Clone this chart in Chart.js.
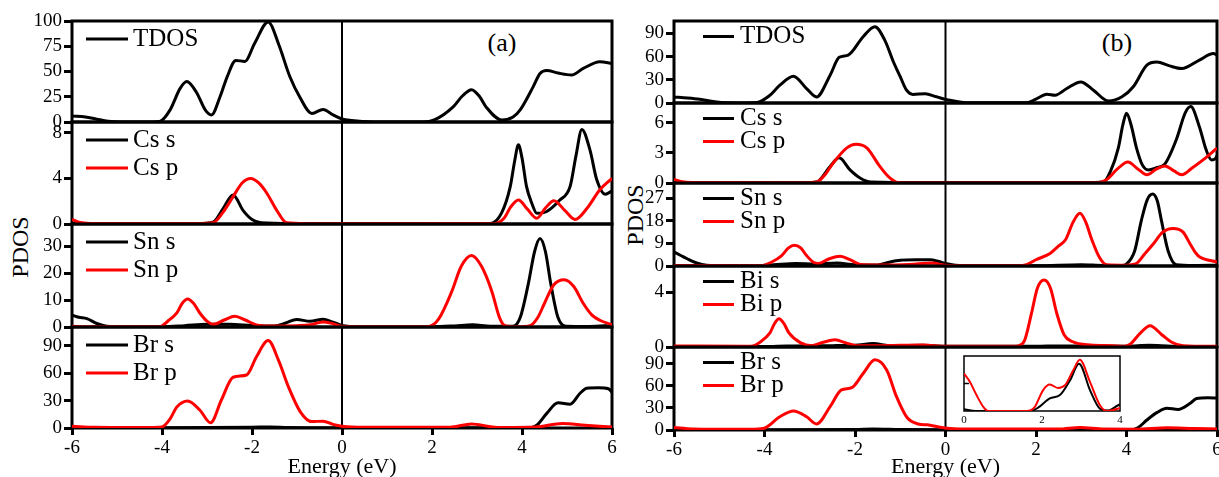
<!DOCTYPE html>
<html>
<head>
<meta charset="utf-8">
<script src="https://cdn.jsdelivr.net/npm/chart.js@4.4.1/dist/chart.umd.min.js"></script>
<style>
  html, body { margin: 0; padding: 0; background: #fff; }
  #fig { position: relative; width: 1219px; height: 477px; overflow: hidden;
         font-family: 'Liberation Serif', 'Times New Roman', serif; }
  #fig canvas { position: absolute; }
  .lbl { position: absolute; color: #000; white-space: nowrap; transform: translate(-50%, -50%); }
  .rot { transform: translate(-50%, -50%) rotate(-90deg); }
</style>
</head>
<body>
<div id="fig">
  <div class="lbl" style="left:502px;top:43px;font-size:26px">(a)</div>
  <div class="lbl" style="left:1117px;top:43px;font-size:26px">(b)</div>
  <div class="lbl rot" style="left:20px;top:247px;font-size:24px">PDOS</div>
  <div class="lbl rot" style="left:635px;top:215px;font-size:24px">PDOS</div>
</div>
<script>
// energy axis
const energyTicks = [-6, -4, -2, 0, 2, 4, 6];
const insetTicks = [0, 2, 4];

// ---- panel (a): [energy eV, states/eV]
const tdosA = [[-6,6],[-5.7,5],[-5.45,2.8],[-5.2,0.8],[-4.8,0],[-4.2,0],[-4.05,0.5],[-3.82,12],[-3.6,33],[-3.45,40],[-3.23,29],[-3.04,12],[-2.9,7],[-2.71,25],[-2.55,45],[-2.36,61],[-2.16,60],[-1.94,78],[-1.64,99],[-1.4,76],[-1.16,45],[-0.93,24],[-0.67,8.5],[-0.42,12.5],[-0.2,7],[0,3],[0.5,0.5],[1.0,0],[1.8,0],[2.05,2],[2.47,15],[2.68,26],[2.88,32],[3.06,25],[3.2,15],[3.55,2],[3.8,5],[3.96,12],[4.25,35],[4.4,48],[4.55,51],[4.8,48.5],[5.1,46.5],[5.36,53],[5.73,59.7],[6,58]];
const csSA = [[-6,0.05],[-3.2,0.03],[-2.87,0.15],[-2.65,1.3],[-2.42,2.55],[-2.2,1.2],[-2.0,0.4],[-1.8,0.12],[-1.0,0.05],[0,0.02],[3.3,0.05],[3.55,1.0],[3.74,3.3],[3.84,5.6],[3.92,6.95],[4.0,5.8],[4.1,3.3],[4.22,1.8],[4.33,0.95],[4.55,1.1],[4.84,2.1],[5.07,3.3],[5.2,6.0],[5.33,8.3],[5.51,6.5],[5.66,3.9],[5.85,2.6],[6,2.9]];
const csPA = [[-6,0.4],[-5.85,0.15],[-5.6,0.05],[-3.2,0.04],[-2.87,0.1],[-2.65,1.0],[-2.42,2.4],[-2.22,3.6],[-2.03,4.0],[-1.85,3.6],[-1.67,2.7],[-1.45,1.2],[-1.23,0.1],[-0.8,0.03],[3.4,0.05],[3.6,0.5],[3.75,1.5],[3.92,2.1],[4.12,1.3],[4.33,0.5],[4.52,1.4],[4.71,2.05],[4.95,1.2],[5.18,0.4],[5.45,1.4],[5.73,3.0],[6,4.0]];
const snSA = [[-6,4.4],[-5.85,3.6],[-5.67,3.1],[-5.45,1.3],[-5.23,0.3],[-4.8,0.05],[-4.0,0.1],[-3.5,0.5],[-3.0,1.0],[-2.5,1.0],[-2.0,0.6],[-1.5,0.4],[-1.25,1.5],[-1.01,2.8],[-0.71,2.1],[-0.42,2.9],[-0.2,1.8],[0,0.6],[0.4,0.1],[2.0,0.1],[2.5,0.4],[2.9,0.8],[3.3,0.3],[3.8,0.3],[3.96,3.5],[4.14,16],[4.28,28],[4.4,32.8],[4.52,28],[4.64,16],[4.8,3.5],[4.98,0.3],[5.5,0.2],[6,0.6]];
const snPA = [[-6,0.3],[-5.7,0.1],[-4.3,0.05],[-4.05,0.1],[-3.85,2.5],[-3.67,5.2],[-3.55,8.8],[-3.43,10.4],[-3.3,8.8],[-3.16,5.2],[-3.0,2.2],[-2.86,1.0],[-2.62,2.6],[-2.38,4.0],[-2.15,2.6],[-1.9,0.8],[-1.6,0.4],[-1.0,0.5],[-0.7,0.8],[-0.42,1.9],[-0.2,1.2],[0,0.3],[0.5,0.05],[1.8,0.05],[1.96,0.3],[2.15,3],[2.44,13.2],[2.65,22.5],[2.88,26.5],[3.1,22.5],[3.33,13.2],[3.5,3.5],[3.62,0.5],[3.9,0.1],[4.18,0.5],[4.35,3.5],[4.5,8.8],[4.7,15.5],[4.94,17.5],[5.15,15],[5.36,8.8],[5.55,4.5],[5.73,2.5],[6,0.8]];
const brSA = [[-6,0.4],[-4,0.3],[-2,0.8],[-1.6,1.2],[-1.2,0.6],[0,0.3],[3,0.3],[4.2,0.4],[4.35,4],[4.55,16],[4.8,27.7],[5.07,26],[5.29,38],[5.44,43.5],[5.7,44],[5.92,43],[6,39]];
const brPA = [[-6,1.8],[-5.5,0.8],[-4.3,0.5],[-4.01,1],[-3.82,10],[-3.67,23],[-3.43,29.6],[-3.16,19.7],[-2.92,5.8],[-2.68,30.6],[-2.42,55.5],[-2.12,58],[-1.9,78],[-1.64,95.6],[-1.41,74],[-1.19,45],[-0.93,18],[-0.67,7],[-0.42,7.5],[-0.2,4],[0,2],[0.5,0.8],[2.4,0.8],[2.88,4.5],[3.3,1.5],[3.6,0.5],[4.3,1],[4.9,5],[5.4,3],[6,1]];

const tdosTicksA = [0, 25, 50, 75, 100];
const csTicksA = [0, 4, 8];
const snTicksA = [0, 10, 20, 30];
const brTicksA = [0, 30, 60, 90];

// ---- panel (b)
const tdosB = [[-6,7.8],[-5.7,6.5],[-5.43,4.8],[-5.1,1.5],[-4.84,0.2],[-4.4,0],[-4.17,0.5],[-3.9,9],[-3.66,23],[-3.36,34.7],[-3.07,18.7],[-2.85,7.8],[-2.55,36],[-2.35,59],[-2.15,62],[-1.82,85.7],[-1.56,98.7],[-1.34,81],[-1.15,53],[-1.0,34],[-0.86,16.5],[-0.72,11],[-0.45,12],[-0.2,8],[0.03,4.4],[0.47,0.3],[1.79,0.3],[2.0,5],[2.24,11.3],[2.42,10],[2.68,18.7],[2.99,27.3],[3.27,16.5],[3.6,2.6],[3.9,8],[4.15,21],[4.45,49],[4.67,53],[4.95,48],[5.22,44.6],[5.61,55.5],[5.92,64],[6,62]];
const csSB = [[-6,0.05],[-3.1,0.03],[-2.85,0.1],[-2.55,1.65],[-2.35,2.5],[-2.11,1.3],[-1.89,0.5],[-1.65,0.1],[-0.5,0.05],[3.3,0.05],[3.49,0.1],[3.65,1.2],[3.82,3.5],[3.92,5.8],[4.0,6.93],[4.1,5.8],[4.22,3.5],[4.35,1.8],[4.48,1.3],[4.65,1.5],[4.85,1.9],[5.1,4.3],[5.3,7.0],[5.42,7.6],[5.61,5.6],[5.76,3.3],[5.88,2.3],[5.96,2.4],[6,2.7]];
const csPB = [[-6,0.35],[-5.85,0.15],[-5.6,0.05],[-3.1,0.03],[-2.85,0.1],[-2.65,0.9],[-2.48,2.0],[-2.18,3.5],[-1.98,3.86],[-1.74,3.5],[-1.45,1.65],[-1.23,0.5],[-1.05,0.05],[0,0.02],[3.35,0.03],[3.55,0.3],[3.8,1.4],[4.03,2.1],[4.25,1.4],[4.45,0.82],[4.65,1.35],[4.85,1.7],[5.05,1.2],[5.22,0.82],[5.45,1.5],[5.75,2.5],[6,3.47]];
const snSB = [[-6,5.6],[-5.85,4.2],[-5.72,3],[-5.5,1.2],[-5.28,0.3],[-4.8,0.1],[-4.2,0.1],[-3.8,0.5],[-3.3,1.0],[-2.9,0.8],[-2.4,1.2],[-2.0,0.5],[-1.5,0.4],[-1.25,1.5],[-1.0,2.3],[-0.65,2.5],[-0.34,2.5],[-0.15,1.8],[0,1.0],[0.4,0.1],[2.0,0.1],[3.0,0.5],[3.5,0.2],[3.9,0.2],[4.0,0.8],[4.18,6],[4.33,18.3],[4.46,26.5],[4.58,28.7],[4.68,26],[4.77,18.3],[4.92,6],[5.1,0.5],[5.5,0.2],[6,0.3]];
const snPB = [[-6,0.2],[-4.3,0.1],[-4.1,0.1],[-3.85,1.5],[-3.62,4.15],[-3.47,7.2],[-3.34,8.3],[-3.2,7.2],[-3.07,4.15],[-2.92,1.5],[-2.81,1.0],[-2.58,2.8],[-2.33,3.9],[-2.1,2.4],[-1.88,0.6],[-1.5,0.4],[-0.8,0.6],[-0.3,1.2],[0,0.3],[0.4,0.1],[1.6,0.1],[1.79,0.5],[2.0,2.5],[2.31,5],[2.5,8],[2.66,10.7],[2.82,17.5],[2.97,21],[3.1,17.5],[3.23,10.7],[3.4,3.5],[3.56,0.5],[4.0,0.3],[4.2,0.8],[4.41,5],[4.6,9],[4.8,13.5],[5.03,15],[5.25,13.5],[5.4,9],[5.54,5],[5.62,3.6],[6,1.6]];
const biSB = [[-6,0.03],[-4,0.03],[-3.5,0.08],[-2.5,0.1],[-2.0,0.12],[-1.6,0.25],[-1.2,0.1],[-0.5,0.12],[0,0.05],[2,0.05],[2.5,0.08],[4.0,0.05],[4.5,0.12],[5,0.05],[6,0.03]];
const biPB = [[-6,0.08],[-4.4,0.05],[-4.3,0.05],[-4.1,0.35],[-3.88,1.03],[-3.78,1.7],[-3.68,2.06],[-3.57,1.7],[-3.46,1.03],[-3.2,0.3],[-2.95,0.1],[-2.7,0.35],[-2.44,0.53],[-2.2,0.3],[-1.95,0.1],[-1.5,0.1],[-0.5,0.15],[0,0.05],[1.5,0.05],[1.6,0.08],[1.75,0.5],[1.9,2.45],[2.03,4.3],[2.18,4.9],[2.32,4.3],[2.46,2.45],[2.62,0.9],[2.8,0.4],[3.2,0.15],[3.7,0.1],[3.95,0.05],[4.08,0.2],[4.3,1.0],[4.52,1.55],[4.78,0.9],[5.0,0.35],[5.25,0.1],[6,0.05]];
const brSB = [[-6,0.5],[-4,0.4],[-2,0.6],[-1.6,1.2],[-1.0,0.6],[0,0.3],[3.0,0.3],[4.1,0.5],[4.25,3],[4.45,13.6],[4.67,23.6],[4.89,29.6],[5.14,28],[5.4,36],[5.55,43],[5.8,44],[6,43.5]];
const brPB = [[-6,3.5],[-5.6,1.5],[-4.3,1],[-4.03,2],[-3.66,18],[-3.36,26],[-3.07,18],[-2.85,8.2],[-2.55,31.8],[-2.3,54.6],[-2.07,57.7],[-1.82,77],[-1.56,95.5],[-1.3,81.8],[-1.08,45],[-0.85,17],[-0.6,8.2],[-0.4,7],[-0.15,4],[0.1,2],[0.5,1.2],[2.5,1.2],[2.97,3.5],[3.5,1.2],[4.2,1],[4.9,3],[5.5,2],[6,1.5]];
// inset of Br (b), 0..4 eV, arbitrary units
const insetSB = [[0,0.03],[0.3,0],[1.7,0],[1.9,0.06],[2.2,0.23],[2.46,0.29],[2.72,0.56],[2.95,0.86],[3.23,0.38],[3.49,0.04],[3.7,0.01],[3.94,0.1],[4,0.12]];
const insetPB = [[0,0.68],[0.15,0.53],[0.32,0.29],[0.5,0.07],[0.62,0],[1.6,0],[1.8,0.06],[2.03,0.38],[2.2,0.48],[2.41,0.42],[2.59,0.47],[2.8,0.74],[2.97,0.93],[3.23,0.53],[3.49,0.1],[3.66,0],[3.94,0.04],[4,0.06]];

const tdosTicksB = [0, 30, 60, 90];
const csTicksB = [0, 3, 6];
const snTicksB = [0, 9, 18, 27];
const biTicksB = [0, 4];
const brTicksB = [0, 30, 60, 90];

const BLACK = '#000000';
const RED = '#ff0000';
const FONT = "'Liberation Serif', 'Times New Roman', serif";
Chart.defaults.font.family = FONT;
Chart.defaults.color = '#000';

const AXIS_W = 60;
const PAD = 12;

const panelA = {
  left: 72, right: 612, tops: [21, 122, 224, 327], bottom: 428, xAxisH: 52,
  legend: { x0: 14, len: 42, tx: 61, y0: 18, dy: 28 },
  rows: [
    { ymax: 100, ticks: tdosTicksA, series: [['TDOS', tdosA, BLACK]] },
    { ymax: 8.95, ticks: csTicksA, series: [['Cs s', csSA, BLACK], ['Cs p', csPA, RED]] },
    { ymax: 38.2, ticks: snTicksA, series: [['Sn s', snSA, BLACK], ['Sn p', snPA, RED]] },
    { ymax: 110.5, ticks: brTicksA, series: [['Br s', brSA, BLACK], ['Br p', brPA, RED]] }
  ]
};

const panelB = {
  left: 674, right: 1217, tops: [21, 103, 183, 266, 347], bottom: 430, xAxisH: 50,
  legend: { x0: 29, len: 31, tx: 66, y0: 15.5, dy: 23 },
  rows: [
    { ymax: 106, ticks: tdosTicksB, series: [['TDOS', tdosB, BLACK]] },
    { ymax: 7.96, ticks: csTicksB, series: [['Cs s', csSB, BLACK], ['Cs p', csPB, RED]] },
    { ymax: 33.1, ticks: snTicksB, series: [['Sn s', snSB, BLACK], ['Sn p', snPB, RED]] },
    { ymax: 5.92, ticks: biTicksB, series: [['Bi s', biSB, BLACK], ['Bi p', biPB, RED]] },
    { ymax: 113, ticks: brTicksB, series: [['Br s', brSB, BLACK], ['Br p', brPB, RED]] }
  ]
};

const fig = document.getElementById('fig');

function addCanvas(left, top, w, h) {
  const cv = document.createElement('canvas');
  cv.width = w;
  cv.height = h;
  cv.style.left = left + 'px';
  cv.style.top = top + 'px';
  cv.style.width = w + 'px';
  cv.style.height = h + 'px';
  fig.appendChild(cv);
  return cv;
}

// box around the plot area, the E = 0 line and an optional inner tick
const framePlugin = {
  id: 'frame',
  beforeDatasetsDraw(chart, args, opts) {
    const { ctx, chartArea: a } = chart;
    ctx.save();
    ctx.strokeStyle = '#000';
    ctx.lineWidth = opts.lineWidth || 3;
    ctx.strokeRect(a.left, a.top, a.right - a.left, a.bottom - a.top);
    if (opts.zero) {
      const x0 = chart.scales.x.getPixelForValue(0);
      ctx.lineWidth = 2;
      ctx.beginPath();
      ctx.moveTo(x0, a.top);
      ctx.lineTo(x0, a.bottom);
      ctx.stroke();
    }
    if (opts.innerTick != null) {
      const yt = chart.scales.y.getPixelForValue(opts.innerTick);
      ctx.lineWidth = 1.5;
      ctx.beginPath();
      ctx.moveTo(a.left, yt);
      ctx.lineTo(a.left + 5, yt);
      ctx.stroke();
    }
    ctx.restore();
  }
};

// line + name legend in the top left corner of each sub plot
const rowLegendPlugin = {
  id: 'rowLegend',
  afterDatasetsDraw(chart, args, opts) {
    const { ctx, chartArea: a } = chart;
    ctx.save();
    ctx.font = '25px ' + FONT;
    ctx.textBaseline = 'middle';
    ctx.textAlign = 'left';
    chart.data.datasets.forEach((ds, k) => {
      const y = a.top + opts.y0 + k * opts.dy;
      ctx.strokeStyle = ds.borderColor;
      ctx.lineWidth = 3;
      ctx.beginPath();
      ctx.moveTo(a.left + opts.x0, y);
      ctx.lineTo(a.left + opts.x0 + opts.len, y);
      ctx.stroke();
      ctx.fillStyle = '#000';
      ctx.fillText(ds.label, a.left + opts.tx, y);
    });
    ctx.restore();
  }
};

function toXY(pts) {
  return pts.map(([x, y]) => ({ x, y }));
}

function makeRow(p, i) {
  const row = p.rows[i];
  const last = i === p.rows.length - 1;
  const top = p.tops[i];
  const bottom = last ? p.bottom : p.tops[i + 1];
  const w = AXIS_W + (p.right - p.left) + PAD;
  const h = PAD + (bottom - top) + (last ? p.xAxisH : PAD);
  const cv = addCanvas(p.left - AXIS_W, top - PAD, w, h);
  const n = row.series.length;

  new Chart(cv, {
    type: 'line',
    data: {
      datasets: row.series.map(([label, pts, color], k) => ({
        label: label,
        data: toXY(pts),
        borderColor: color,
        borderWidth: 3,
        pointRadius: 0,
        fill: false,
        cubicInterpolationMode: 'monotone',
        order: n - k
      }))
    },
    options: {
      responsive: false,
      maintainAspectRatio: false,
      animation: false,
      events: [],
      layout: { padding: { left: 0, right: PAD, top: PAD, bottom: last ? 0 : PAD } },
      plugins: {
        legend: { display: false },
        tooltip: { enabled: false },
        frame: { zero: true },
        rowLegend: p.legend
      },
      scales: {
        x: {
          type: 'linear',
          min: -6,
          max: 6,
          display: last,
          afterBuildTicks: s => { s.ticks = energyTicks.map(v => ({ value: v })); },
          afterFit: s => {
            if (!last) return;
            s.height = p.xAxisH; s.paddingLeft = 0; s.paddingRight = 0;
          },
          grid: { drawOnChartArea: false, drawTicks: true, tickLength: 7, tickWidth: 3, lineWidth: 3, color: '#000', tickColor: '#000' },
          border: { display: false },
          ticks: { font: { size: 19 }, color: '#000', padding: 2, maxRotation: 0, autoSkip: false, callback: v => String(v) },
          title: { display: true, text: 'Energy (eV)', font: { size: 22 }, color: '#000', padding: 0 }
        },
        y: {
          type: 'linear',
          min: 0,
          max: row.ymax,
          afterBuildTicks: s => { s.ticks = row.ticks.map(v => ({ value: v })); },
          afterFit: s => { s.width = AXIS_W; s.paddingTop = 0; s.paddingBottom = 0; },
          grid: { drawOnChartArea: false, drawTicks: true, tickLength: 8, tickWidth: 3, lineWidth: 3, color: '#000', tickColor: '#000' },
          border: { display: false },
          ticks: { font: { size: 19 }, color: '#000', padding: 2, autoSkip: false, callback: v => String(v) }
        }
      }
    },
    plugins: [framePlugin, rowLegendPlugin]
  });
}

function makeInset() {
  const L = 964, R = 1120, T = 356, B = 411, m = 5, xh = 16;
  const cv = addCanvas(L - m, T - m, R - L + 2 * m, B - T + m + xh);
  new Chart(cv, {
    type: 'line',
    data: {
      datasets: [
        { label: 'Br s', data: toXY(insetSB), borderColor: BLACK, borderWidth: 2, pointRadius: 0, cubicInterpolationMode: 'monotone', order: 2 },
        { label: 'Br p', data: toXY(insetPB), borderColor: RED, borderWidth: 2, pointRadius: 0, cubicInterpolationMode: 'monotone', order: 1 }
      ]
    },
    options: {
      responsive: false,
      maintainAspectRatio: false,
      animation: false,
      events: [],
      layout: { padding: { left: m, right: m, top: m, bottom: 0 } },
      plugins: {
        legend: { display: false },
        tooltip: { enabled: false },
        frame: { lineWidth: 1.5, innerTick: 0.5 }
      },
      scales: {
        x: {
          type: 'linear',
          min: 0,
          max: 4,
          afterBuildTicks: s => { s.ticks = insetTicks.map(v => ({ value: v })); },
          afterFit: s => { s.height = xh; s.paddingLeft = 0; s.paddingRight = 0; },
          grid: { drawOnChartArea: false, drawTicks: false },
          border: { display: false },
          ticks: { font: { size: 11 }, color: '#000', padding: 3, maxRotation: 0, callback: v => String(v) }
        },
        y: { type: 'linear', display: false, min: 0, max: 1 }
      }
    },
    plugins: [framePlugin]
  });
}

panelA.rows.forEach((r, i) => makeRow(panelA, i));
panelB.rows.forEach((r, i) => makeRow(panelB, i));
makeInset();
</script>
</body>
</html>
